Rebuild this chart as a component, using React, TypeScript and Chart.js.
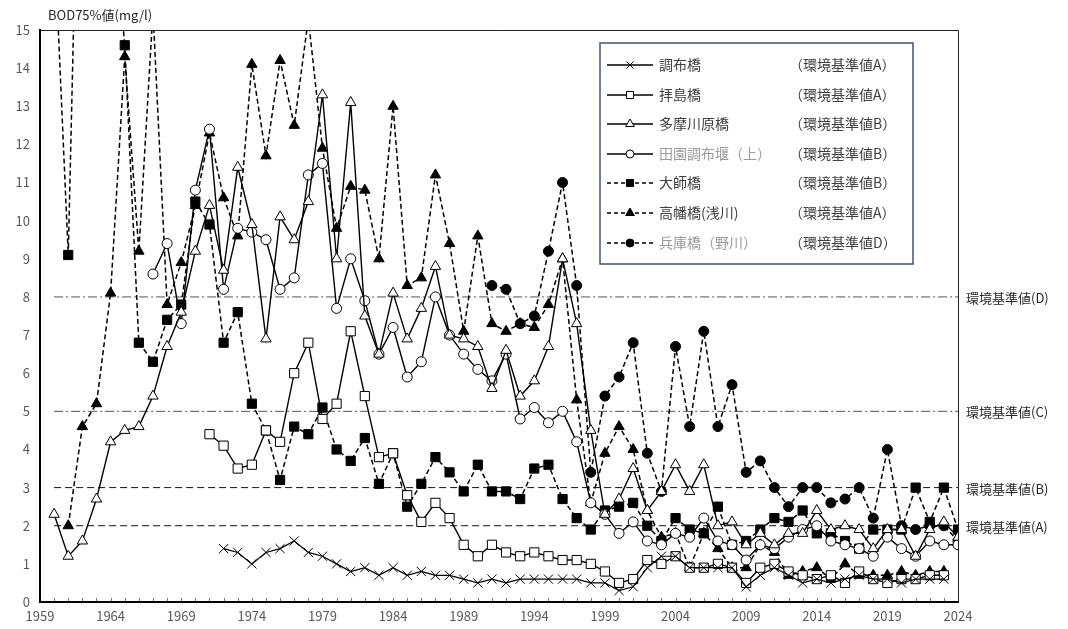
import React, { useEffect, useRef } from 'react';
import { Chart, registerables } from 'chart.js';

Chart.register(...registerables);

// ---------- data ----------
const yTitle = 'BOD75%値(mg/l)';

const chofuStart = 1972;
const chofu = [1.4, 1.3, 1.0, 1.3, 1.4, 1.6, 1.3, 1.2, 1.0, 0.8, 0.9, 0.7, 0.9, 0.7, 0.8, 0.7, 0.7, 0.6, 0.5, 0.6, 0.5, 0.6, 0.6, 0.6, 0.6, 0.6, 0.5, 0.5, 0.3, 0.4, 0.9, 1.2, 1.2, 0.9, 0.9, 0.9, 0.9, 0.4, 0.7, 0.9, 0.7, 0.5, 0.6, 0.5, 0.6, 0.7, 0.6, 0.6, 0.5, 0.6, 0.6, 0.6];

const haijimaStart = 1971;
const haijima = [4.4, 4.1, 3.5, 3.6, 4.5, 4.2, 6.0, 6.8, 4.8, 5.2, 7.1, 5.4, 3.8, 3.9, 2.8, 2.1, 2.6, 2.2, 1.5, 1.2, 1.5, 1.3, 1.2, 1.3, 1.2, 1.1, 1.1, 1.0, 0.8, 0.5, 0.6, 1.1, 1.0, 1.2, 0.9, 0.9, 1.0, 0.9, 0.5, 0.9, 1.0, 0.8, 0.7, 0.6, 0.7, 0.5, 0.8, 0.6, 0.5, 0.6, 0.6, 0.7, 0.7];

const tamagawaraStart = 1960;
const tamagawara = [2.3, 1.2, 1.6, 2.7, 4.2, 4.5, 4.6, 5.4, 6.7, 7.6, 9.2, 10.4, 8.7, 11.4, 9.9, 6.9, 10.1, 9.5, 10.5, 13.3, 9.0, 13.1, 7.5, 6.5, 8.1, 6.9, 7.7, 8.8, 7.0, 6.9, 6.7, 5.6, 6.6, 5.4, 5.8, 6.7, 9.0, 7.3, 4.5, 2.3, 2.7, 3.5, 2.4, 2.9, 3.6, 2.9, 3.6, 2.0, 2.1, 1.5, 1.8, 1.5, 1.8, 1.8, 2.4, 1.9, 2.0, 1.9, 1.4, 1.9, 1.9, 1.2, 1.9, 2.1, 1.7];

const denenStart = 1967;
const denen = [8.6, 9.4, 7.3, 10.8, 12.4, 8.2, 9.8, 9.7, 9.5, 8.2, 8.5, 11.2, 11.5, 7.7, 9.0, 7.9, 6.5, 7.2, 5.9, 6.3, 8.0, 7.0, 6.5, 6.1, 5.8, 6.5, 4.8, 5.1, 4.7, 5.0, 4.2, 2.6, 2.3, 1.8, 2.1, 1.6, 1.5, 1.8, 1.7, 2.2, 1.6, 1.5, 1.1, 1.5, 1.4, 1.7, 1.9, 2.0, 1.6, 1.5, 1.4, 1.2, 1.7, 1.4, 1.2, 1.6, 1.5, 1.5];

const daishiStart = 1960;
const daishi = [17.5, 9.1, 25.0, 22.0, 19.0, 14.6, 6.8, 6.3, 7.4, 7.8, 10.5, 9.9, 6.8, 7.6, 5.2, 4.5, 3.2, 4.6, 4.4, 5.1, 4.0, 3.7, 4.3, 3.1, 3.9, 2.5, 3.1, 3.8, 3.4, 2.9, 3.6, 2.9, 2.9, 2.7, 3.5, 3.6, 2.7, 2.2, 1.9, 2.4, 2.5, 2.6, 2.0, 1.6, 2.2, 1.9, 1.8, 2.5, 1.5, 1.6, 1.9, 2.2, 2.1, 2.4, 1.8, 1.8, 1.6, 1.4, 1.9, 1.9, 1.9, 3.0, 2.1, 3.0, 1.9];

const takahataStart = 1961;
const takahata = [2.0, 4.6, 5.2, 8.1, 14.3, 9.2, 15.5, 7.8, 8.9, 10.4, 12.3, 10.6, 9.6, 14.1, 11.7, 14.2, 12.5, 15.3, 11.9, 9.8, 10.9, 10.8, 9.0, 13.0, 8.3, 8.5, 11.2, 9.4, 7.1, 9.6, 7.3, 7.1, 7.3, 7.2, 7.8, 9.0, 5.3, 2.6, 3.9, 4.6, 4.0, 2.4, 1.7, 1.8, 0.9, 1.8, 1.4, 0.9, 0.9, 1.5, 1.3, 0.7, 0.8, 0.9, 0.6, 1.0, 0.7, 0.7, 0.7, 0.8, 0.7, 0.8, 0.8];

const hyogoStart = 1991;
const hyogo = [8.3, 8.2, 7.3, 7.5, 9.2, 11.0, 8.3, 3.4, 5.4, 5.9, 6.8, 3.9, 2.9, 6.7, 4.6, 7.1, 4.6, 5.7, 3.4, 3.7, 3.0, 2.5, 3.0, 3.0, 2.6, 2.7, 3.0, 2.2, 4.0, 2.0, 1.9, 2.0, 2.0, 1.6];

const seriesNames = ['調布橋', '拝島橋', '多摩川原橋', '田園調布堰（上）', '大師橋', '高幡橋(浅川)', '兵庫橋（野川）'];
const seriesStandards = ['（環境基準値A）', '（環境基準値A）', '（環境基準値B）', '（環境基準値B）', '（環境基準値B）', '（環境基準値A）', '（環境基準値D）'];

const refLevels = [8, 5, 3, 2];
const refLabels = ['環境基準値(D)', '環境基準値(C)', '環境基準値(B)', '環境基準値(A)'];
const refStartYear = 1960;
const refEndYear = 2024;

const xMin = 1959;
const xMax = 2024;
const yMin = 0;
const yMax = 15;

// ---------- styling ----------
const FONT = '"Noto Sans CJK JP", "Noto Sans", sans-serif';
const toPoints = (start: number, vals: number[]) => vals.map((v, i) => ({ x: start + i, y: v }));

type Style = { pointStyle: string; radius: number; fill: string; dashed: boolean; width: number; nameColor: string };
const styles: Style[] = [
  { pointStyle: 'crossRot', radius: 6.5, fill: '#000', dashed: false, width: 1.2, nameColor: '#404040' },
  { pointStyle: 'rect', radius: 6.5, fill: '#fff', dashed: false, width: 1.4, nameColor: '#404040' },
  { pointStyle: 'triangle', radius: 6, fill: '#fff', dashed: false, width: 1.4, nameColor: '#404040' },
  { pointStyle: 'circle', radius: 5, fill: '#fff', dashed: false, width: 1.4, nameColor: '#9a9a9a' },
  { pointStyle: 'rect', radius: 6.5, fill: '#000', dashed: true, width: 1.5, nameColor: '#404040' },
  { pointStyle: 'triangle', radius: 6, fill: '#000', dashed: true, width: 1.5, nameColor: '#404040' },
  { pointStyle: 'circle', radius: 5, fill: '#000', dashed: true, width: 1.5, nameColor: '#9a9a9a' },
];

const seriesData = [
  toPoints(chofuStart, chofu),
  toPoints(haijimaStart, haijima),
  toPoints(tamagawaraStart, tamagawara),
  toPoints(denenStart, denen),
  toPoints(daishiStart, daishi),
  toPoints(takahataStart, takahata),
  toPoints(hyogoStart, hyogo),
];

function drawMarker(ctx: CanvasRenderingContext2D, style: string, x: number, y: number, r: number, fill: string) {
  ctx.save();
  ctx.beginPath();
  ctx.lineWidth = 1;
  ctx.strokeStyle = '#000';
  ctx.fillStyle = fill;
  if (style === 'crossRot') {
    const d = r * Math.SQRT1_2;
    ctx.moveTo(x - d, y - d); ctx.lineTo(x + d, y + d);
    ctx.moveTo(x - d, y + d); ctx.lineTo(x + d, y - d);
    ctx.stroke();
  } else if (style === 'rect') {
    const s = r * Math.SQRT1_2;
    ctx.rect(x - s, y - s, 2 * s, 2 * s);
    ctx.fill(); ctx.stroke();
  } else if (style === 'triangle') {
    ctx.moveTo(x, y - r);
    ctx.lineTo(x + r * 0.866, y + r * 0.5);
    ctx.lineTo(x - r * 0.866, y + r * 0.5);
    ctx.closePath();
    ctx.fill(); ctx.stroke();
  } else {
    ctx.arc(x, y, r, 0, Math.PI * 2);
    ctx.fill(); ctx.stroke();
  }
  ctx.restore();
}

const overlayPlugin = {
  id: 'overlay',
  afterDraw(chart: any) {
    const { ctx, chartArea: a, scales } = chart;
    const xs = scales.x;
    const ys = scales.y;
    ctx.save();
    // frame top/right
    ctx.strokeStyle = '#222';
    ctx.lineWidth = 1;
    ctx.beginPath();
    ctx.moveTo(a.left, a.top + 0.5);
    ctx.lineTo(a.right + 0.5, a.top + 0.5);
    ctx.lineTo(a.right + 0.5, a.bottom);
    ctx.stroke();
    // inner year tick marks
    ctx.strokeStyle = '#777';
    ctx.beginPath();
    for (let yr = xMin + 1; yr < xMax; yr++) {
      const px = Math.round(xs.getPixelForValue(yr)) + 0.5;
      ctx.moveTo(px, a.bottom - 1);
      ctx.lineTo(px, a.bottom - 4);
    }
    ctx.stroke();
    // title
    ctx.fillStyle = '#262626';
    ctx.font = `13px ${FONT}`;
    ctx.textBaseline = 'middle';
    ctx.textAlign = 'left';
    ctx.fillText(yTitle, a.left + 8, a.top - 15);
    // reference labels
    ctx.fillStyle = '#262626';
    refLevels.forEach((v, i) => {
      ctx.fillText(refLabels[i], a.right + 8, ys.getPixelForValue(v) + 1);
    });
    // legend box
    const bx = 600, by = 43, bw = 313, bh = 221;
    ctx.fillStyle = '#fff';
    ctx.fillRect(bx, by, bw, bh);
    ctx.strokeStyle = '#44546a';
    ctx.lineWidth = 1.5;
    ctx.strokeRect(bx, by, bw, bh);
    const rowY = [65, 95, 124, 154, 183, 213, 243];
    ctx.font = `14px ${FONT}`;
    seriesNames.forEach((name, i) => {
      const st = styles[i];
      const y = rowY[i];
      ctx.save();
      ctx.strokeStyle = '#000';
      ctx.lineWidth = st.dashed ? 1.3 : 1.5;
      ctx.setLineDash(st.dashed ? [4, 3] : []);
      ctx.beginPath();
      ctx.moveTo(607, y);
      ctx.lineTo(653, y);
      ctx.stroke();
      ctx.restore();
      drawMarker(ctx, st.pointStyle, 630, y, st.pointStyle === 'circle' ? 4 : 5, st.fill);
      ctx.fillStyle = st.nameColor;
      ctx.textBaseline = 'middle';
      ctx.fillText(name, 659, y);
      ctx.fillStyle = '#404040';
      ctx.fillText(seriesStandards[i], 789, y);
    });
    ctx.restore();
  },
};

export default function App() {
  const ref = useRef<HTMLCanvasElement>(null);
  useEffect(() => {
    document.body.style.margin = '0';
    Chart.defaults.font.family = FONT;
    const refDatasets = refLevels.map((v, i) => ({
      type: 'line' as const,
      label: refLabels[i],
      data: [{ x: refStartYear, y: v }, { x: refEndYear, y: v }],
      borderColor: i < 2 ? '#555' : '#111',
      borderWidth: 1,
      borderDash: i < 2 ? [9, 3, 2, 3] : [7, 4],
      pointRadius: 0,
      order: 10,
    }));
    const seriesDatasets = seriesNames.map((name, i) => ({
      type: 'line' as const,
      label: name,
      data: seriesData[i],
      borderColor: '#000',
      borderWidth: styles[i].width,
      borderDash: styles[i].dashed ? [5, 3] : [],
      pointStyle: styles[i].pointStyle,
      pointRadius: styles[i].radius,
      pointBorderWidth: 1,
      pointBorderColor: '#000',
      pointBackgroundColor: styles[i].fill,
      tension: 0,
      order: i,
    }));
    const chart = new Chart(ref.current as HTMLCanvasElement, {
      type: 'line',
      data: { datasets: [...seriesDatasets, ...refDatasets] as any },
      options: {
        responsive: false,
        animation: false,
        events: [],
        layout: { padding: { top: 30, right: 110, left: 0, bottom: 0 } },
        plugins: { legend: { display: false }, tooltip: { enabled: false } },
        scales: {
          x: {
            type: 'linear',
            min: xMin,
            max: xMax,
            ticks: {
              stepSize: 1,
              autoSkip: false,
              maxRotation: 0,
              minRotation: 0,
              color: '#595959',
              font: { size: 13, family: FONT },
              padding: 6,
              callback: (v: any) => ((Number(v) - xMin) % 5 === 0 ? String(v) : ''),
            },
            grid: { display: false, drawTicks: false },
            border: { display: true, color: '#000', width: 2 },
            afterFit: (s: any) => { s.height = 27; },
          },
          y: {
            min: yMin,
            max: yMax,
            ticks: { stepSize: 1, color: '#595959', font: { size: 13, family: FONT }, padding: 10 },
            grid: { display: false, drawTicks: false },
            border: { display: true, color: '#000', width: 2 },
            afterFit: (s: any) => { s.width = 40; },
          },
        },
      },
      plugins: [overlayPlugin],
    });
    return () => chart.destroy();
  }, []);
  return (
    <div style={{ width: 1068, height: 629, position: 'relative', background: '#fff' }}>
      <canvas ref={ref} width={1068} height={629} />
    </div>
  );
}
